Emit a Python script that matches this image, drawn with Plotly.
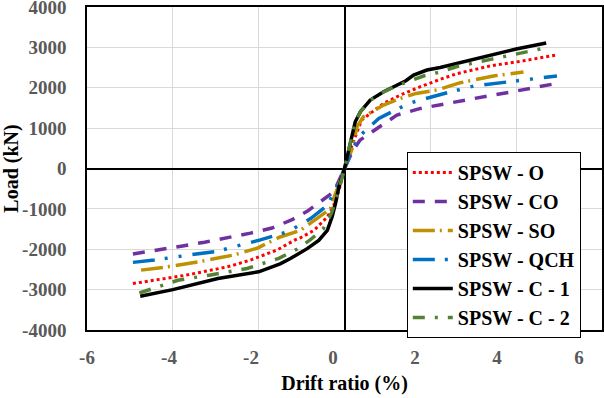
import plotly.graph_objects as go

names = ["SPSW - O", "SPSW - CO", "SPSW - SO", "SPSW - QCH", "SPSW - C - 1", "SPSW - C - 2"]

o_x = [-4.93, -4.31, -3.69, -2.99, -2.66, -2.19, -1.57, -1.15, -1.02, -0.71, -0.4, -0.25, -0.12, 0,
       0.1, 0.22, 0.4, 0.6, 0.91, 1.3, 1.77, 2.23, 2.62, 3.4, 4.17, 4.91]
o_y = [-2850, -2750, -2642, -2492, -2417, -2267, -2017, -1767, -1713, -1531, -1200, -911, -500, 0,
       350, 702, 1199, 1364, 1612, 1819, 2026, 2208, 2350, 2542, 2667, 2808]

co_x = [-4.93, -4.31, -3.77, -3.26, -2.74, -2.19, -1.69, -1.22, -0.87, -0.25, 0,
        0.2, 0.36, 0.53, 0.8, 1.22, 1.77, 2.31, 2.85, 3.32, 3.86, 4.4, 4.95]
co_y = [-2117, -2017, -1917, -1825, -1725, -1600, -1475, -1267, -1060, -580, 0,
        450, 702, 826, 1033, 1323, 1488, 1600, 1692, 1792, 1892, 2000, 2108]

so_x = [-4.74, -4.23, -3.38, -3.05, -2.58, -2.04, -1.5, -1.03, -0.75, -0.33, -0.21, -0.1, 0,
        0.1, 0.18, 0.29, 0.44, 0.91, 1.3, 1.67, 2.15, 2.7, 3.47, 4.17]
so_y = [-2517, -2450, -2308, -2242, -2142, -1975, -1696, -1533, -1323, -1000, -620, -300, 0,
        250, 496, 1033, 1281, 1571, 1736, 1860, 1943, 2125, 2292, 2392]

qch_x = [-4.93, -4.43, -3.5, -2.99, -1.96, -1.3, -1.03, -0.79, -0.4, -0.2, 0,
         0.14, 0.33, 0.53, 0.8, 1.11, 1.5, 1.77, 2.15, 2.39, 3.01, 3.78, 4.56, 4.95]
qch_y = [-2325, -2267, -2125, -2058, -1767, -1558, -1392, -1241, -911, -500, 0,
         372, 785, 990, 1240, 1406, 1612, 1695, 1819, 1875, 2042, 2142, 2233, 2292]

c1_x = [-4.76, -4.0, -2.95, -2.0, -1.5, -1.26, -0.87, -0.6, -0.4, -0.29, -0.21, -0.13, 0,
        0.1, 0.18, 0.25, 0.37, 0.6, 0.91, 1.22, 1.43, 1.61, 1.92, 2.23, 3.01, 4.0, 4.70]
c1_y = [-3165, -3000, -2725, -2558, -2360, -2230, -1985, -1780, -1530, -1200, -870, -456, 0,
        454, 868, 1157, 1406, 1695, 1902, 2067, 2173, 2315, 2440, 2500, 2708, 2958, 3108]

c2_x = [-4.78, -3.88, -3.15, -2.27, -1.53, -1.11, -0.8, -0.5, -0.3, -0.15, 0,
        0.1, 0.18, 0.25, 0.37, 0.6, 0.91, 1.22, 1.43, 1.6, 1.84, 2.23, 2.62, 3.43, 4.25, 4.67]
c2_y = [-3083, -2767, -2642, -2475, -2225, -2000, -1767, -1500, -1100, -600, 0,
        454, 868, 1157, 1400, 1690, 1895, 2050, 2130, 2200, 2290, 2392, 2525, 2708, 2900, 2983]

x_ticks = [-6, -4, -2, 0, 2, 4, 6]
y_ticks = [-4000, -3000, -2000, -1000, 0, 1000, 2000, 3000, 4000]

series = [
    (o_x, o_y, "#FF0000", "3px,3px", 3),
    (co_x, co_y, "#7030A0", "12px,10px", 3.5),
    (so_x, so_y, "#BF9000", "22px,5px,2px,6px", 3.5),
    (qch_x, qch_y, "#0070C0", "22px,10px,3px,11px,3px,11px", 3.5),
    (c1_x, c1_y, "#000000", "solid", 3.5),
    (c2_x, c2_y, "#548235", "12px,10px,3px,10px", 3.5),
]

fig = go.Figure()
for i, (name, (xs, ys, col, dash, w)) in enumerate(zip(names, series)):
    fig.add_trace(go.Scatter(x=xs, y=ys, name=name, mode="lines", legendgroup=f"g{i}",
                             line=dict(color=col, dash=dash, width=w)))

# label-only companion axis (matches the reference's tick-label placement)
fig.add_trace(go.Scatter(x=[], y=[], xaxis="x2", showlegend=False, hoverinfo="skip"))

tickfont = dict(family="Liberation Serif", size=19, color="#595959", weight="bold")
titlefont = dict(family="Liberation Serif", size=20, color="black", weight="bold")
fig.update_layout(
    width=604, height=398,
    margin=dict(l=87, r=2, t=7, b=68, autoexpand=False),
    paper_bgcolor="white", plot_bgcolor="white",
    font=dict(family="Liberation Serif", color="black"),
    showlegend=True,
    legend=dict(x=0.621, y=0.551, xanchor="left", yanchor="top",
                bgcolor="white", bordercolor="black", borderwidth=1,
                font=dict(family="Liberation Serif", size=20, color="black", weight="bold"),
                tracegroupgap=0, itemwidth=40),
    xaxis=dict(range=[-6, 6], tickvals=x_ticks, showticklabels=False,
               showgrid=True, gridcolor="#D9D9D9", gridwidth=1,
               zeroline=True, zerolinecolor="black", zerolinewidth=1.5,
               showline=True, mirror=True, linecolor="black", linewidth=1.5,
               ticks="", automargin=False,
               title=dict(text="Drift ratio (%)", font=titlefont, standoff=45)),
    xaxis2=dict(range=[-6, 6.56], tickvals=x_ticks, ticktext=[str(v) for v in x_ticks],
                overlaying="x", anchor="y", side="bottom", showgrid=False, zeroline=False,
                showline=False, ticks="", tickfont=tickfont, ticklabelstandoff=14,
                ticklabeloverflow="allow", automargin=False),
    yaxis=dict(range=[-4000, 4000], tickvals=y_ticks, ticktext=[str(v) for v in y_ticks],
               showgrid=True, gridcolor="#D9D9D9", gridwidth=1,
               zeroline=True, zerolinecolor="black", zerolinewidth=1.5,
               showline=True, mirror=True, linecolor="black", linewidth=1.5,
               ticks="", tickfont=tickfont, ticklabelstandoff=15, ticklabeloverflow="allow",
               automargin=False,
               title=dict(text="Load (kN)", font=titlefont, standoff=4)),
)

fig.write_html("out.html", config={"displayModeBar": False},
               post_script="document.body.style.margin='0px';document.body.style.padding='0px';")
